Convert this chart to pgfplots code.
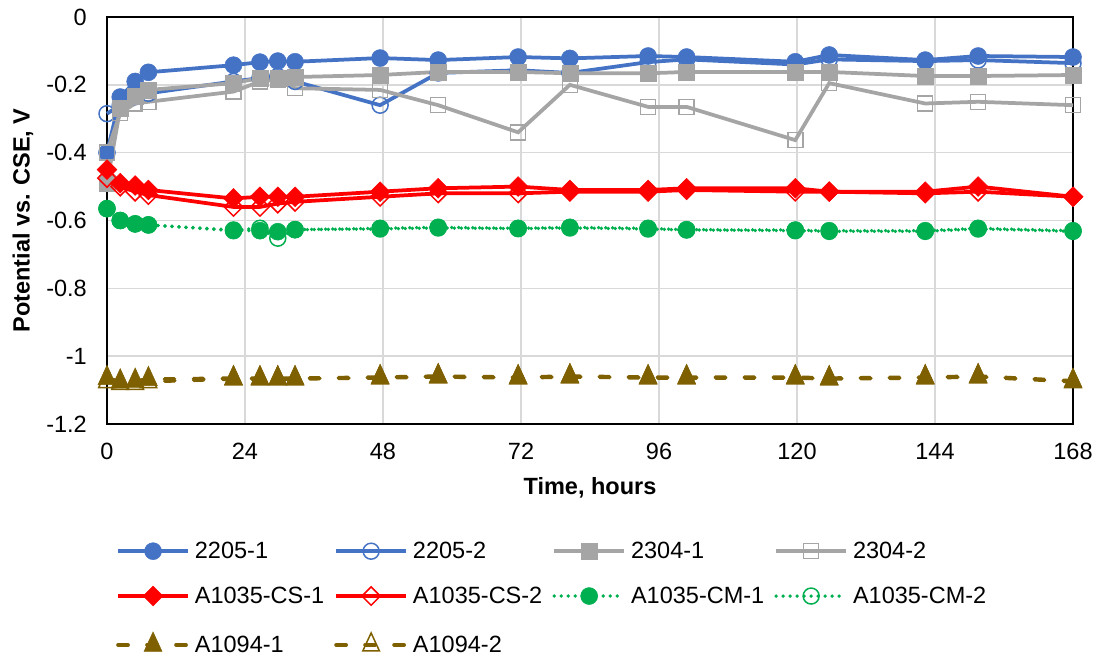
\documentclass[border=0pt]{standalone}
\usepackage{fontspec}
\setmainfont{Liberation Sans}
\usepackage{pgfplots}
\usepackage{pgfplotstable}
\pgfplotsset{compat=1.18}

\definecolor{cblue}{HTML}{4472C4}
\definecolor{cgrey}{HTML}{A5A5A5}
\definecolor{cred}{HTML}{FF0000}
\definecolor{cgreen}{HTML}{00B050}
\definecolor{colive}{HTML}{7F6000}
\definecolor{gridc}{HTML}{D9D9D9}

\newcommand\fs{\fontsize{23.5}{28}\selectfont}

% t: hours; columns = series in legend order
\pgfplotstableread{
t     sa     sb     sc     sd     se     sf     sg     sh     si     sj
0     -0.400 -0.285 -0.490 -0.400 -0.450 -0.475 -0.565 -0.565 -1.065 -1.075
2.3   -0.236 -0.260 -0.270 -0.283 -0.490 -0.500 -0.600 -0.600 -1.075 -1.080
4.9   -0.190 -0.235 -0.235 -0.255 -0.497 -0.515 -0.610 -0.610 -1.073 -1.080
7.2   -0.163 -0.225 -0.215 -0.250 -0.510 -0.525 -0.613 -0.613 -1.068 -1.075
22    -0.142 -0.190 -0.195 -0.220 -0.535 -0.560 -0.630 -0.628 -1.065 -1.067
26.6  -0.133 -0.180 -0.180 -0.190 -0.530 -0.560 -0.630 -0.623 -1.065 -1.067
29.7  -0.130 -0.175 -0.180 -0.185 -0.530 -0.550 -0.633 -0.652 -1.065 -1.067
32.7  -0.132 -0.190 -0.177 -0.210 -0.530 -0.545 -0.627 -0.627 -1.065 -1.067
47.5  -0.121 -0.260 -0.171 -0.215 -0.515 -0.530 -0.623 -0.625 -1.062 -1.064
57.6  -0.127 -0.165 -0.162 -0.260 -0.505 -0.520 -0.620 -0.622 -1.059 -1.061
71.5  -0.118 -0.157 -0.162 -0.340 -0.500 -0.520 -0.623 -0.624 -1.062 -1.064
80.5  -0.122 -0.165 -0.166 -0.200 -0.510 -0.515 -0.620 -0.622 -1.059 -1.061
94.1  -0.115 -0.133 -0.166 -0.265 -0.510 -0.515 -0.623 -0.625 -1.062 -1.064
100.8 -0.118 -0.125 -0.162 -0.265 -0.505 -0.510 -0.627 -0.628 -1.062 -1.064
119.7 -0.132 -0.140 -0.162 -0.363 -0.505 -0.515 -0.628 -0.630 -1.062 -1.064
125.6 -0.112 -0.125 -0.162 -0.195 -0.515 -0.515 -0.630 -0.632 -1.065 -1.067
142.3 -0.127 -0.130 -0.174 -0.255 -0.515 -0.520 -0.630 -0.632 -1.062 -1.064
151.5 -0.115 -0.127 -0.174 -0.250 -0.500 -0.515 -0.623 -0.625 -1.059 -1.061
168   -0.118 -0.136 -0.171 -0.260 -0.530 -0.530 -0.630 -0.632 -1.073 -1.075
}\data

\begin{document}
\begin{tikzpicture}
\useasboundingbox (-107pt,-232pt) rectangle (992pt,424pt);
\begin{axis}[
    at={(0pt,0pt)}, anchor=south west,
    scale only axis,
    width=966pt, height=407pt,
    xmin=0, xmax=168,
    ymin=-1.2, ymax=0,
    xtick={0,24,48,72,96,120,144,168},
    ytick={-1.2,-1,-0.8,-0.6,-0.4,-0.2,0},
    yticklabels={-1.2,-1,-0.8,-0.6,-0.4,-0.2,0},
    major tick length=0pt,
    grid=major,
    grid style={gridc, line width=1.5pt},
    axis line style={black, line width=1.5pt},
    clip=false,
    /pgf/number format/assume math mode=true,
    xticklabel style={font=\fs, inner sep=0pt, anchor=north, yshift=-19pt},
    yticklabel style={font=\fs, inner sep=0pt, anchor=east, xshift=-20pt},
    xlabel={\bfseries Time, hours},
    ylabel={\bfseries Potential vs. CSE, V},
    xlabel style={font=\fs, at={(axis description cs:0.5,-0.157)}, anchor=center},
    ylabel style={font=\fs, at={(axis description cs:-0.087,0.5)}, anchor=center},
    legend columns=4,
    legend cell align=left,
    legend style={at={(axis description cs:0.0093,-0.29)}, anchor=north west,
        draw=none, fill=none, inner sep=0pt, font=\fs,
        nodes={inner sep=0pt},
        /tikz/every odd column/.append style={column sep=5pt},
        /tikz/every even column/.append style={column sep=10pt},
        /tikz/row sep=26pt},
    legend image code/.code={\draw[mark repeat=2,mark phase=2] plot coordinates {(0pt,0pt) (35pt,0pt) (70pt,0pt)};},
    every axis plot/.append style={line width=3.75pt},
]
\addplot[cblue, mark=*, mark size=8.5pt, mark options={solid, fill=cblue, line width=0.5pt}] table[x=t,y=sa] {\data};
\addplot[cblue, mark=o, mark size=8pt, mark options={solid, fill=none, line width=1.5pt}] table[x=t,y=sb] {\data};
\addplot[cgrey, mark=square*, mark size=8pt, mark options={solid, fill=cgrey, line width=0.5pt}] table[x=t,y=sc] {\data};
\addplot[cgrey, mark=square, mark size=7.5pt, mark options={solid, fill=none, line width=1.5pt}] table[x=t,y=sd] {\data};
\addplot[cred, mark=square*, mark size=7pt, mark options={solid, rotate=45, fill=cred, line width=0.5pt}] table[x=t,y=se] {\data};
\addplot[cred, mark=square, mark size=6.5pt, mark options={solid, rotate=45, fill=none, line width=1.5pt}] table[x=t,y=sf] {\data};
\addplot[cgreen, line cap=round, dash pattern=on 0pt off 7pt, mark=*, mark size=8.5pt, mark options={solid, fill=cgreen, line width=0.5pt}] table[x=t,y=sg] {\data};
\addplot[cgreen, line cap=round, dash pattern=on 0pt off 7pt, mark=o, mark size=8pt, mark options={solid, fill=none, line width=1.5pt}] table[x=t,y=sh] {\data};
\addplot[colive, line cap=round, dash pattern=on 10pt off 19pt, mark=triangle*, mark size=13pt, mark options={solid, xscale=0.8, fill=colive, line width=0.5pt}] table[x=t,y=si] {\data};
\addplot[colive, line cap=round, dash pattern=on 10pt off 19pt, mark=triangle, mark size=12pt, mark options={solid, xscale=0.8, fill=none, line width=1.5pt}] table[x=t,y=sj] {\data};
\legend{2205-1,2205-2,2304-1,2304-2,A1035-CS-1,A1035-CS-2,A1035-CM-1,A1035-CM-2,A1094-1,A1094-2}
\end{axis}
\end{tikzpicture}
\end{document}
